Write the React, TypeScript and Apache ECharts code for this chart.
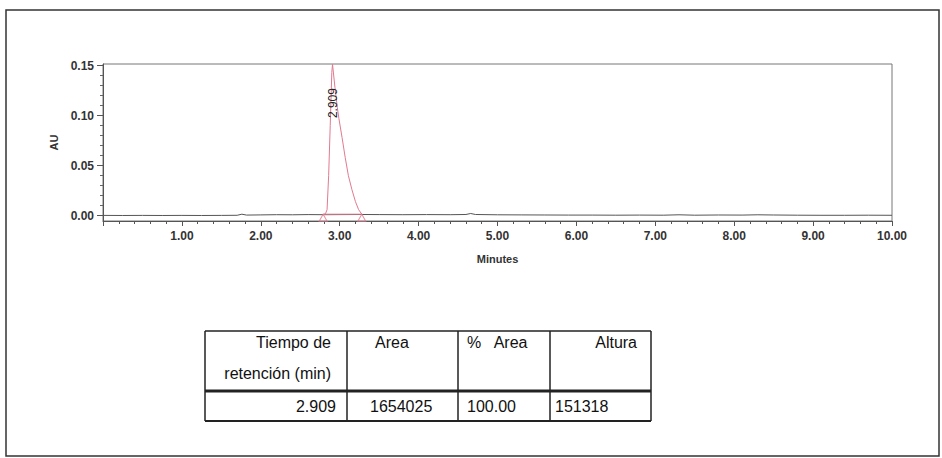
import React, { useEffect, useRef } from "react";
import * as echarts from "echarts";

// Chromatogram trace (minutes, AU)
const times = [0, 0.25, 0.5, 0.75, 1.0, 1.25, 1.5, 1.7, 1.76, 1.82, 2.0, 2.2, 2.4, 2.6, 2.79, 3.28, 3.5, 3.8, 4.1, 4.4, 4.6, 4.66, 4.72, 5.0, 5.3, 5.6, 5.9, 6.2, 6.5, 6.8, 7.1, 7.3, 7.5, 7.8, 8.1, 8.3, 8.5, 8.8, 9.1, 9.4, 9.7, 10.0];
const absorb = [0.0003, 0.0002, 0.0003, 0.0002, 0.0003, 0.0002, 0.0003, 0.0004, 0.0015, 0.0006, 0.0008, 0.001, 0.0009, 0.0011, 0.001, 0.0012, 0.0011, 0.001, 0.0011, 0.001, 0.0012, 0.0022, 0.0012, 0.0009, 0.0008, 0.0007, 0.0006, 0.0006, 0.0005, 0.0006, 0.0005, 0.0009, 0.0005, 0.0007, 0.0006, 0.0009, 0.0007, 0.0005, 0.0004, 0.0004, 0.0005, 0.0004];

// Peak region
const peakTimes = [2.79, 2.82, 2.84, 2.86, 2.88, 2.9, 2.909, 2.94, 2.97, 2.99, 3.03, 3.07, 3.11, 3.155, 3.2, 3.24, 3.28];
const peakAbs = [0.001, 0.002, 0.006, 0.04, 0.09, 0.143, 0.1513, 0.128, 0.108, 0.097, 0.078, 0.058, 0.04, 0.026, 0.014, 0.006, 0.0015];

// Integration
const peakStart = 2.79;
const peakEnd = 3.28;
const integBaseline = 0.0015;
const retentionLabel = "2.909";
const retentionTime = 2.909;

// Axis ticks
const yMajorTicks = [0, 0.05, 0.1, 0.15];
const xMin = 0;
const xMax = 10;

// Table
const tableHeader1 = ["Tiempo de", "Area", "%   Area", "Altura"];
const tableHeader2 = ["retención (min)", "", "", ""];
const tableRow = ["2.909", "1654025", "100.00", "151318"];

const FONT = "'Liberation Sans', Arial, sans-serif";
const PINK = "#e07a90";

export default function App() {
  const ref = useRef<HTMLDivElement>(null);

  useEffect(() => {
    document.body.style.margin = "0";
    const chart = echarts.init(ref.current!, null, { renderer: "svg" });

    const yMinorTicks: number[] = [];
    for (let i = 0; i <= 15; i++) {
      if (i % 5 !== 0) yMinorTicks.push(Math.round(i * 10) / 1000);
    }

    const cols = [205, 347, 458, 550, 651];
    const rows = [331, 391, 421];
    const tableLines: any[] = [];
    cols.forEach((x) =>
      tableLines.push({ type: "line", shape: { x1: x, y1: rows[0], x2: x, y2: rows[2] }, style: { stroke: "#222", lineWidth: 1.5 } })
    );
    tableLines.push({ type: "line", shape: { x1: cols[0], y1: rows[0], x2: cols[4], y2: rows[0] }, style: { stroke: "#222", lineWidth: 1.5 } });
    tableLines.push({ type: "line", shape: { x1: cols[0], y1: rows[1], x2: cols[4], y2: rows[1] }, style: { stroke: "#222", lineWidth: 3 } });
    tableLines.push({ type: "line", shape: { x1: cols[0], y1: rows[2], x2: cols[4], y2: rows[2] }, style: { stroke: "#222", lineWidth: 2 } });

    const txt = (text: string, x: number, y: number, align: string) => ({
      type: "text",
      x,
      y,
      style: { text, fill: "#111", fontSize: 16, fontFamily: FONT, align, verticalAlign: "middle" },
    });

    const tableTexts = [
      txt(tableHeader1[0], 331, 342, "right"),
      txt(tableHeader2[0], 331, 373, "right"),
      txt(tableHeader1[1], 375, 342, "left"),
      txt(tableHeader1[2], 467, 342, "left"),
      txt(tableHeader1[3], 637, 342, "right"),
      txt(tableRow[0], 336, 406, "right"),
      txt(tableRow[1], 370, 406, "left"),
      txt(tableRow[2], 467, 406, "left"),
      txt(tableRow[3], 555, 406, "left"),
    ];

    const axisLabelStyle = { fontFamily: FONT, fontSize: 12, fontWeight: "bold" as const, color: "#333" };

    chart.setOption({
      animation: false,
      backgroundColor: "#fff",
      grid: { left: 103, right: 50, top: 64, bottom: 237, show: true, borderColor: "#777", borderWidth: 1 },
      xAxis: {
        type: "value",
        min: xMin,
        max: xMax,
        interval: 1,
        name: "Minutes",
        nameLocation: "middle",
        nameGap: 32,
        nameTextStyle: { fontFamily: FONT, fontSize: 11, fontWeight: "bold", color: "#333" },
        axisLine: { show: true, onZero: false, lineStyle: { color: "#555", width: 1 } },
        axisTick: { show: true, length: 5, lineStyle: { color: "#555" } },
        minorTick: { show: true, splitNumber: 5, length: 3, lineStyle: { color: "#555" } },
        splitLine: { show: false },
        axisLabel: {
          ...axisLabelStyle,
          margin: 9,
          formatter: (v: number) => (v === 0 ? "" : v.toFixed(2)),
          showMinLabel: false,
        },
      },
      yAxis: [
        {
          type: "value",
          min: -0.0053,
          max: 0.1515,
          name: "AU",
          nameLocation: "middle",
          nameGap: 43,
          nameRotate: 90,
          nameTextStyle: { fontFamily: FONT, fontSize: 11, fontWeight: "bold", color: "#333" },
          axisLine: { show: true, lineStyle: { color: "#555", width: 1 } },
          axisTick: { show: true, length: 6, customValues: yMajorTicks, lineStyle: { color: "#555" } },
          axisLabel: { ...axisLabelStyle, margin: 9, customValues: yMajorTicks, formatter: (v: number) => v.toFixed(2) },
          splitLine: { show: false },
        },
        {
          type: "value",
          min: -0.0053,
          max: 0.1515,
          position: "left",
          axisLine: { show: false },
          axisTick: { show: true, length: 3, customValues: yMinorTicks, lineStyle: { color: "#666" } },
          axisLabel: { show: false },
          splitLine: { show: false },
        },
      ],
      series: [
        {
          type: "line",
          data: times.map((t, i) => [t, absorb[i]]),
          symbol: "none",
          lineStyle: { color: "#555", width: 1 },
          z: 2,
        },
        {
          type: "line",
          data: [
            [peakStart, integBaseline],
            [peakEnd, integBaseline],
          ],
          symbol: "none",
          lineStyle: { color: PINK, width: 1 },
          z: 3,
        },
        {
          type: "line",
          data: peakTimes.map((t, i) => [t, peakAbs[i]]),
          symbol: "none",
          lineStyle: { color: PINK, width: 1 },
          z: 4,
          markPoint: {
            symbol: "circle",
            symbolSize: 1,
            itemStyle: { color: "rgba(0,0,0,0)" },
            data: [{ coord: [retentionTime, 0.1125], value: retentionLabel }],
            label: {
              show: true,
              position: "inside",
              rotate: 90,
              formatter: retentionLabel,
              fontFamily: FONT,
              fontSize: 12,
              color: "#222",
            },
          },
        },
        {
          type: "scatter",
          data: [
            [peakStart, -0.002],
            [peakEnd, -0.002],
          ],
          symbol: "triangle",
          symbolSize: [8, 7],
          itemStyle: { color: "rgba(0,0,0,0)", borderColor: PINK, borderWidth: 1 },
          z: 5,
        },
      ],
      graphic: [
        {
          type: "rect",
          shape: { x: 6, y: 10, width: 933, height: 446 },
          style: { fill: "none", stroke: "#333", lineWidth: 1.5 },
          silent: true,
        },
        ...tableLines,
        ...tableTexts,
      ],
    });

    return () => chart.dispose();
  }, []);

  return <div ref={ref} style={{ position: "absolute", left: 0, top: 0, width: 942, height: 458 }} />;
}
